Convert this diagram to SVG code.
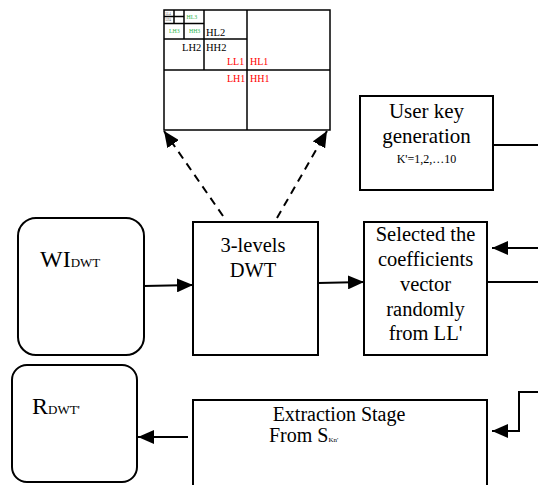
<svg xmlns="http://www.w3.org/2000/svg" width="538" height="485" viewBox="0 0 538 485" font-family="'Liberation Serif', 'Times New Roman', serif">
<style>
.box{fill:#fff;stroke:#000;stroke-width:2}
.grid{fill:none;stroke:#000;stroke-width:1.5}
text{font-family:'Liberation Serif','Times New Roman',serif;fill:#000}
.c{text-anchor:middle}
.red{fill:#ff0000}
.grn{fill:#2db34a}
.conn{fill:none;stroke:#000;stroke-width:2}
.dash{stroke-dasharray:8,6}
</style>
<defs>
<marker id="ah" viewBox="0 0 16 14" refX="16" refY="7" markerWidth="16" markerHeight="14" markerUnits="userSpaceOnUse" orient="auto">
<path d="M0,0 L16,7 L0,14 z" fill="#000"/>
</marker>
</defs>
<rect width="538" height="485" fill="#fff"/>

<g id="subbands">
<rect class="grid" x="164" y="10" width="166" height="120"/>
<line class="grid" x1="247" y1="10" x2="247" y2="130"/>
<line class="grid" x1="164" y1="70" x2="330" y2="70"/>
<line class="grid" x1="164" y1="39" x2="247" y2="39"/>
<line class="grid" x1="204" y1="10" x2="204" y2="70"/>
<line class="grid" x1="164" y1="23.5" x2="204" y2="23.5" stroke-width="1.2"/>
<line class="grid" x1="184" y1="10" x2="184" y2="39" stroke-width="1.2"/>
<line class="grid" x1="164" y1="16.5" x2="184" y2="16.5" stroke-width="1"/>
<line class="grid" x1="174" y1="10" x2="174" y2="23.5" stroke-width="1"/>
<text x="165.5" y="14.5" font-size="3" fill="#555" style="fill:#555">LL4</text>
<text x="165.5" y="21" font-size="3" style="fill:#555">LH4</text>
<text class="grn" x="186.5" y="19" font-size="5.8">HL3</text>
<text class="grn" x="169" y="33" font-size="5.8">LH3</text>
<text class="grn" x="189" y="33" font-size="5.8">HH3</text>
<text x="206" y="36" font-size="10.5">HL2</text>
<text x="182" y="51" font-size="10.5">LH2</text>
<text x="206" y="51" font-size="10.5">HH2</text>
<text class="red" x="227" y="65" font-size="10">LL1</text>
<text class="red" x="250" y="65" font-size="10">HL1</text>
<text class="red" x="227" y="82" font-size="10">LH1</text>
<text class="red" x="250" y="82" font-size="10">HH1</text>
</g>

<g id="userkey">
<rect class="box" x="360" y="96" width="133" height="94"/>
<text class="c" x="426.5" y="118" font-size="21">User key</text>
<text class="c" x="426.5" y="143" font-size="21">generation</text>
<text class="c" x="426.5" y="163" font-size="12">K'=1,2,…10</text>
</g>

<g id="wi">
<rect class="box" x="18" y="218" width="126" height="137" rx="18"/>
<text x="40" y="267" font-size="24">WI<tspan font-size="13">DWT</tspan></text>
</g>

<g id="dwt">
<rect class="box" x="193" y="222" width="125" height="133"/>
<text class="c" x="253" y="252" font-size="20.5">3-levels</text>
<text class="c" x="253" y="277" font-size="20.5">DWT</text>
</g>

<g id="selected">
<rect class="box" x="364" y="222" width="123" height="133"/>
<text class="c" x="425.5" y="241" font-size="20.5">Selected the</text>
<text class="c" x="425.5" y="266" font-size="20.5">coefficients</text>
<text class="c" x="425.5" y="291" font-size="20.5">vector</text>
<text class="c" x="425.5" y="316" font-size="20.5">randomly</text>
<text class="c" x="425.5" y="340" font-size="20.5">from LL'</text>
</g>

<g id="r">
<rect class="box" x="12" y="365" width="125" height="117" rx="15"/>
<text x="32" y="414" font-size="24">R<tspan font-size="13">DWT'</tspan></text>
</g>

<g id="extraction">
<rect class="box" x="193" y="400" width="294" height="100"/>
<text class="c" x="339" y="421" font-size="20">Extraction Stage</text>
<text x="269" y="442" font-size="20">From S<tspan font-size="7">Kn'</tspan></text>
</g>

<g id="connectors">
<path class="conn dash" d="M223,216 L164,131" marker-end="url(#ah)"/>
<path class="conn dash" d="M277,218 L327,131" marker-end="url(#ah)"/>
<path class="conn" d="M144,286 L193,285" marker-end="url(#ah)"/>
<path class="conn" d="M318,283 L364,282" marker-end="url(#ah)"/>
<path class="conn" d="M538,248 L492,248" marker-end="url(#ah)"/>
<path class="conn" d="M487,282 L538,282"/>
<path class="conn" d="M493,145 L538,145"/>
<path class="conn" d="M538,392 L519,392 L519,431 L492,431" marker-end="url(#ah)"/>
<path class="conn" d="M188,437 L138,437" marker-end="url(#ah)"/>
</g>
</svg>
